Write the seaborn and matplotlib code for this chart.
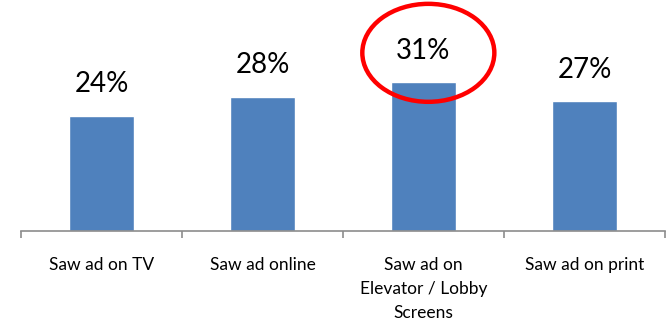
import matplotlib
matplotlib.use("Agg")
import matplotlib.pyplot as plt
from matplotlib.patches import Ellipse
import seaborn as sns
import pandas as pd

categories = ["Saw ad on TV", "Saw ad online", "Saw ad on\nElevator / Lobby\nScreens", "Saw ad on print"]
values = [24, 28, 31, 27]
value_labels = ["24%", "28%", "31%", "27%"]
highlight_index = 2

sns.set_theme(style="white")
plt.rcParams['font.family'] = ['Lato', 'DejaVu Sans']

df = pd.DataFrame({"cat": categories, "val": values})

fig = plt.figure(figsize=(6.67, 3.27), dpi=100)
ax = fig.add_axes([21/667, (327-231)/327, 644/667, 231/327])
sns.barplot(data=df, x="cat", y="val", color="#4F81BD", saturation=1, width=0.40, ax=ax)

ax.set_xlim(-0.5, len(categories) - 0.5)
ax.set_ylim(0, 48.1)
ax.set_xlabel("")
ax.set_ylabel("")
ax.set_yticks([])
for s in ["top", "right", "left"]:
    ax.spines[s].set_visible(False)
ax.spines["bottom"].set_color("#8c8c8c")
ax.spines["bottom"].set_linewidth(1.2)

ax.set_xticks(range(len(categories)))
ax.set_xticklabels(categories, fontsize=12.5, color="black", linespacing=1.6, va="top")
ax.tick_params(axis="x", which="major", length=0, pad=19)
ax.set_xticks([i - 0.5 for i in range(len(categories) + 1)], minor=True)
ax.tick_params(axis="x", which="minor", length=5, width=1.2, color="#8c8c8c", direction="out", bottom=True)

for i, (v, lab) in enumerate(zip(values, value_labels)):
    ax.annotate(lab, (i, v), xytext=(0, 22.7), textcoords="offset points",
                ha="center", va="center", fontsize=20, color="black")

hv = values[highlight_index]
ell = Ellipse((highlight_index + 0.03, hv + 6.1), width=0.82, height=20.4, fill=False,
              edgecolor="#FF0000", linewidth=3.2, clip_on=False)
ax.add_patch(ell)

fig.savefig("out.png", dpi=100)
